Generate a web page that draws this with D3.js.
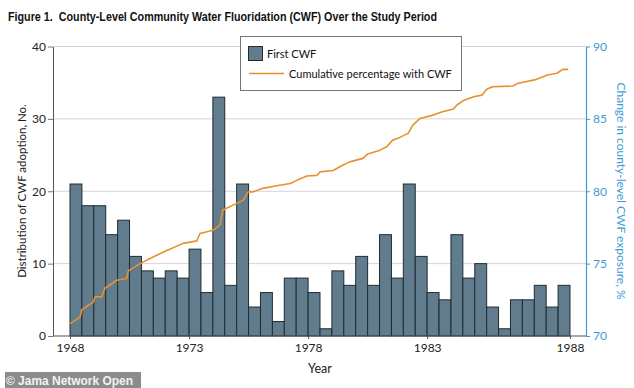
<!DOCTYPE html>
<html>
<head>
<meta charset="utf-8">
<script src="https://cdn.jsdelivr.net/npm/d3@7"></script>
<style>
body { margin: 0; background: #fff; }
svg text { font-family: Lato, "Noto Sans", sans-serif; }
.g-title { font-family: "Liberation Sans Narrow", "Liberation Sans", sans-serif !important; font-weight: bold; white-space: pre; }
.g-mark { font-family: "Liberation Sans", Arial, sans-serif !important; font-weight: bold; }
</style>
</head>
<body>
<svg id="chart" width="634" height="388"></svg>
<script>
// counties adopting CWF for the first time, one bar per half-year bin
let firstCwf = [21,18,18,14,16,11,9,8,9,8,12,6,33,7,21,4,6,2,8,8,6,
                1,9,7,11,7,14,8,21,11,6,5,14,8,10,4,1,5,5,7,4,7];

// cumulative % with CWF, position given in half-year bins since 1968
let cumPeriod = [0,0.84,0.98,1.96,2.1,2.66,2.94,3.92,4.76,4.9,5.88,6.97,8.13,9.5,10.65,10.92,
                 12.0,12.6,12.83,13.7,14.54,14.96,15.38,16.2,17.6,18.5,19.1,19.9,20.76,21.0,
                 22.1,22.9,23.5,24.6,25.0,26.05,26.6,27.1,27.7,28.4,28.8,29.4,30.5,31.3,32.2,
                 32.5,33.0,33.9,34.6,35.0,35.5,37.2,37.6,39.2,40.1,40.9,41.4,41.85];
let cumPct = [70.86,71.3,71.8,72.35,72.7,72.7,73.3,73.85,73.97,74.5,75.0,75.46,75.9,76.4,76.57,77.08,
              77.3,77.66,78.7,79.04,79.38,79.96,79.96,80.2,80.42,80.54,80.77,81.05,81.1,81.34,
              81.43,81.8,82.03,82.27,82.57,82.84,83.07,83.53,83.72,84.0,84.57,85.03,85.26,85.49,85.68,
              85.96,86.25,86.53,86.64,87.04,87.22,87.27,87.45,87.73,88.03,88.15,88.42,88.42];

let xTickPos = [0, 10, 20, 30, 42];
let xTickLabels = ["1968", "1973", "1978", "1983", "1988"];
let leftTicks = [0, 10, 20, 30, 40];
let rightTicks = [70, 75, 80, 85, 90];

let svg = d3.select("#chart");
let blue = "#3d9bd3";

let x = d3.scaleLinear().domain([0, firstCwf.length]).range([70, 570]);
let yL = d3.scaleLinear().domain([0, 40]).range([336, 46.5]);
let yR = d3.scaleLinear().domain([70, 90]).range([336, 46.5]);

svg.append("text").attr("class", "g-title")
    .attr("x", 8).attr("y", 21)
    .attr("textLength", 429).attr("lengthAdjust", "spacingAndGlyphs")
    .style("font-size", "13.5px").attr("fill", "#111")
    .text("Figure 1.  County-Level Community Water Fluoridation (CWF) Over the Study Period");

// grid
svg.append("g").selectAll("line")
    .data(leftTicks.filter(d => d > 0))
    .join("line")
    .attr("x1", 53).attr("x2", 586)
    .attr("y1", d => yL(d)).attr("y2", d => yL(d))
    .attr("stroke", "#d4d4d4").attr("stroke-width", 1);

// bars
svg.append("g").selectAll("rect")
    .data(firstCwf)
    .join("rect")
    .attr("x", (d, i) => x(i))
    .attr("width", (d, i) => x(i + 1) - x(i))
    .attr("y", d => yL(d))
    .attr("height", d => yL(0) - yL(d))
    .attr("fill", "#617d8d")
    .attr("stroke", "#1e2b33")
    .attr("stroke-width", 1);

// cumulative line
let line = d3.line()
    .x((d, i) => x(cumPeriod[i]))
    .y(d => yR(d));
svg.append("path")
    .datum(cumPct)
    .attr("d", line)
    .attr("fill", "none")
    .attr("stroke", "#e8902c")
    .attr("stroke-width", 1.6)
    .attr("stroke-linejoin", "round");

// left axis
let gl = svg.append("g").attr("transform", "translate(53,0)")
    .call(d3.axisLeft(yL).tickValues(leftTicks).tickSize(5).tickSizeOuter(0).tickPadding(2));
gl.select(".domain").attr("stroke", "#555");
gl.selectAll(".tick line").attr("stroke", "#777");
gl.selectAll(".tick text").style("font-size", "12px").attr("fill", "#222");

// right axis
let gr = svg.append("g").attr("transform", "translate(586,0)")
    .call(d3.axisRight(yR).tickValues(rightTicks).tickSize(4).tickSizeOuter(0).tickPadding(3));
gr.select(".domain").attr("stroke", blue).attr("stroke-width", 1.2);
gr.selectAll(".tick line").attr("stroke", blue);
gr.selectAll(".tick text").style("font-size", "12px").attr("fill", blue);

// bottom axis
let gb = svg.append("g").attr("transform", "translate(0,336)")
    .call(d3.axisBottom(x).tickValues(xTickPos).tickFormat((d, i) => xTickLabels[i]).tickSize(3).tickSizeOuter(0).tickPadding(4));
gb.select(".domain").attr("d", "M53,0H586").attr("stroke", "#555");
gb.selectAll(".tick line").attr("stroke", "#555");
gb.selectAll(".tick text").style("font-size", "12px").attr("fill", "#222");

// axis titles
svg.append("text")
    .attr("x", 320).attr("y", 373)
    .attr("text-anchor", "middle")
    .style("font-size", "12.5px").attr("fill", "#222")
    .text("Year");

svg.append("text")
    .attr("transform", "translate(26,191) rotate(-90)")
    .attr("text-anchor", "middle")
    .style("font-size", "11.5px").attr("fill", "#222")
    .text("Distribution of CWF adoption, No.");

svg.append("text")
    .attr("transform", "translate(617,191) rotate(90)")
    .attr("text-anchor", "middle")
    .style("font-size", "12px").attr("fill", blue)
    .text("Change in county-level CWF exposure, %");

// legend
let lg = svg.append("g");
lg.append("rect")
    .attr("x", 240.5).attr("y", 36.5).attr("width", 221).attr("height", 54)
    .attr("fill", "#fff").attr("stroke", "#777");
lg.append("rect")
    .attr("x", 248.5).attr("y", 46.5).attr("width", 14).attr("height", 14)
    .attr("fill", "#617d8d").attr("stroke", "#1e2b33");
lg.append("text")
    .attr("x", 267).attr("y", 58)
    .style("font-size", "11px").attr("fill", "#111")
    .text("First CWF");
lg.append("line")
    .attr("x1", 249).attr("x2", 284).attr("y1", 73.5).attr("y2", 73.5)
    .attr("stroke", "#e8902c").attr("stroke-width", 1.6);
lg.append("text")
    .attr("x", 289).attr("y", 78)
    .style("font-size", "11px").attr("fill", "#111")
    .text("Cumulative percentage with CWF");

// watermark
svg.append("rect")
    .attr("x", 5).attr("y", 372).attr("width", 136).attr("height", 16)
    .attr("fill", "#8c8c8c");
svg.append("text").attr("class", "g-mark")
    .attr("x", 6).attr("y", 385)
    .attr("textLength", 127).attr("lengthAdjust", "spacingAndGlyphs")
    .style("font-size", "12.5px").attr("fill", "#f2f2f2")
    .text("© Jama Network Open");
</script>
</body>
</html>
